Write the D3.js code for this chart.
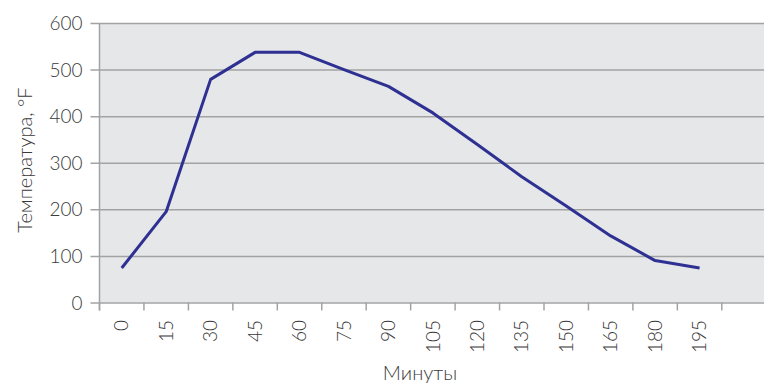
<!DOCTYPE html>
<html>
<head>
<meta charset="utf-8">
<script src="https://cdn.jsdelivr.net/npm/d3@7"></script>
<style>
  body { margin: 0; background: #fff; }
  text { font-family: Lato, "Open Sans", sans-serif; font-weight: 300; fill: #3a3a3a; }
</style>
</head>
<body>
<script>
const minutes = ["0", "15", "30", "45", "60", "75", "90", "105", "120", "135", "150", "165", "180", "195"];
const temps = [74, 195, 479, 537, 537, 500, 464, 407, 339, 270, 207, 143, 90, 74];
const yTicks = [0, 100, 200, 300, 400, 500, 600];

const w = 764, h = 383;
const padLeft = 99.5, padTop = 23, plotBottom = 302.5;
const band = 44.45;

const svg = d3.select("body")
  .append("svg")
  .attr("width", w)
  .attr("height", h);

const xScale = d3.scaleBand()
  .domain(minutes)
  .range([padLeft, padLeft + band * minutes.length]);

const yScale = d3.scaleLinear()
  .domain([0, 600])
  .range([plotBottom, padTop]);

// plot background
svg.append("rect")
  .attr("x", padLeft)
  .attr("y", padTop)
  .attr("width", w - padLeft)
  .attr("height", plotBottom - padTop)
  .attr("fill", "#e6e7e9");

// y axis + gridlines
const yAxis = d3.axisLeft(yScale)
  .tickValues(yTicks)
  .tickSize(-(w - padLeft))
  .tickPadding(17)
  .tickSizeOuter(0);

const gy = svg.append("g")
  .attr("transform", `translate(${padLeft}, 0)`)
  .call(yAxis);
gy.select(".domain").remove();
gy.selectAll(".tick line")
  .attr("x1", -9)
  .attr("stroke", "#a3a3a3")
  .attr("stroke-width", 1.5);
gy.selectAll(".tick text")
  .attr("font-size", 19)
  .attr("dy", "0.35em");

svg.append("line")
  .attr("x1", padLeft).attr("x2", padLeft)
  .attr("y1", padTop).attr("y2", plotBottom + 8)
  .attr("stroke", "#a3a3a3")
  .attr("stroke-width", 1.5);

// x axis: ticks at band boundaries
const boundaries = minutes.map(m => xScale(m)).concat([xScale(minutes[minutes.length - 1]) + xScale.bandwidth()]);
svg.append("g")
  .selectAll("line")
  .data(boundaries)
  .enter()
  .append("line")
  .attr("x1", d => d).attr("x2", d => d)
  .attr("y1", plotBottom).attr("y2", plotBottom + 8)
  .attr("stroke", "#a3a3a3")
  .attr("stroke-width", 1.5);

svg.append("g")
  .selectAll("text")
  .data(minutes)
  .enter()
  .append("text")
  .attr("transform", d => `translate(${xScale(d) + xScale.bandwidth() / 2}, 320) rotate(-90)`)
  .attr("text-anchor", "end")
  .attr("dy", "0.35em")
  .attr("font-size", 19)
  .text(d => d);

// line
const line = d3.line()
  .x((d, i) => xScale(minutes[i]) + xScale.bandwidth() / 2)
  .y(d => yScale(d));

svg.append("path")
  .datum(temps)
  .attr("fill", "none")
  .attr("stroke", "#2e3192")
  .attr("stroke-width", 3)
  .attr("stroke-linejoin", "round")
  .attr("d", line);

// axis titles
svg.append("text")
  .attr("transform", "translate(32, 160) rotate(-90)")
  .attr("text-anchor", "middle")
  .attr("font-size", 20)
  .text("Температура, °F");

svg.append("text")
  .attr("x", 420)
  .attr("y", 380)
  .attr("text-anchor", "middle")
  .attr("font-size", 20)
  .text("Минуты");
</script>
</body>
</html>
